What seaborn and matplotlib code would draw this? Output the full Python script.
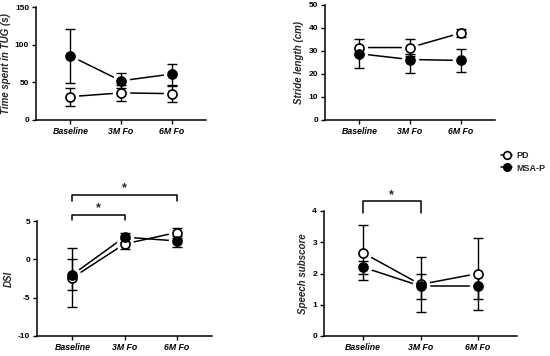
import numpy as np
import pandas as pd
import seaborn as sns
import matplotlib.pyplot as plt
from matplotlib.lines import Line2D

sns.set_style("ticks")
plt.rcParams['font.family'] = ['Liberation Sans', 'DejaVu Sans']
plt.rcParams['axes.unicode_minus'] = False

timepoints = ["Baseline", "3M Fo", "6M Fo"]
groups = ["PD", "MSA-P"]

# TUG time (s)
tug_pd = [31, 36, 35]
tug_pd_lo = [19, 25, 24]
tug_pd_hi = [43, 46, 45]
tug_msa = [85, 52, 61]
tug_msa_lo = [49, 43, 46]
tug_msa_hi = [121, 62, 74]

# stride length (cm)
stride_pd = [31.5, 31.5, 37.8]
stride_pd_lo = [28.5, 28.5, 36.2]
stride_pd_hi = [35, 35, 39.4]
stride_msa = [28.8, 26.3, 25.9]
stride_msa_lo = [22.5, 20.5, 21]
stride_msa_hi = [31, 28, 30.8]

# DSI
dsi_pd = [-2.4, 2.0, 3.5]
dsi_pd_lo = [-6.2, 1.3, 2.8]
dsi_pd_hi = [1.5, 2.7, 4.1]
dsi_msa = [-2.0, 2.9, 2.4]
dsi_msa_lo = [-4.0, 2.3, 1.6]
dsi_msa_hi = [0.0, 3.5, 3.1]

# speech subscore
speech_pd = [2.66, 1.65, 2.0]
speech_pd_lo = [1.78, 0.78, 0.84]
speech_pd_hi = [3.54, 2.53, 3.15]
speech_msa = [2.2, 1.6, 1.6]
speech_msa_lo = [2.0, 1.2, 1.2]
speech_msa_hi = [2.4, 2.0, 2.0]

panels = [
    ("Time spent in TUG (s)", (0, 150), [0, 50, 100, 150],
     (tug_pd, tug_pd_lo, tug_pd_hi), (tug_msa, tug_msa_lo, tug_msa_hi)),
    ("Stride length (cm)", (0, 50), [0, 10, 20, 30, 40, 50],
     (stride_pd, stride_pd_lo, stride_pd_hi), (stride_msa, stride_msa_lo, stride_msa_hi)),
    ("DSI", (-10, 5), [-10, -5, 0, 5],
     (dsi_pd, dsi_pd_lo, dsi_pd_hi), (dsi_msa, dsi_msa_lo, dsi_msa_hi)),
    ("Speech subscore", (0, 4), [0, 1, 2, 3, 4],
     (speech_pd, speech_pd_lo, speech_pd_hi), (speech_msa, speech_msa_lo, speech_msa_hi)),
]

rects = [
    [36/550, 1-120/356, 170/550, 113/356],
    [325/550, 1-120/356, 170/550, 115/356],
    [37/550, 1-336/356, 175/550, 115/356],
    [324/550, 1-336/356, 193/550, 125/356],
]

fig = plt.figure(figsize=(5.5, 3.56), dpi=100)
ms = 6.5

for (ylab, ylim, yticks, pd_vals, msa_vals), rect in zip(panels, rects):
    ax = fig.add_axes(rect)
    x = np.arange(len(timepoints))
    df = pd.DataFrame({
        "x": np.concatenate([x, x]),
        "val": pd_vals[0] + msa_vals[0],
        "group": [groups[0]] * 3 + [groups[1]] * 3,
    })
    sns.lineplot(data=df, x="x", y="val", hue="group", palette=["black", "black"],
                 linewidth=1.1, legend=False, ax=ax, zorder=1)
    for (vals, lo, hi), fc in [(pd_vals, "white"), (msa_vals, "black")]:
        vals = np.array(vals)
        yerr = [vals - np.array(lo), np.array(hi) - vals]
        # white halo to leave a gap between the lines and the markers
        ax.plot(x, vals, "o", ms=ms + 5, mfc="white", mec="white", zorder=1.5)
        ax.errorbar(x, vals, yerr=yerr, fmt="none", ecolor="black",
                    elinewidth=1.0, capsize=3.5, capthick=1.0, zorder=2)
        ax.plot(x, vals, "o", ms=ms, mfc=fc, mec="black", mew=1.2, zorder=3)
    ax.set_xlim(-0.68, 2.68)
    ax.set_ylim(*ylim)
    ax.set_yticks(yticks)
    ax.set_xticks(x)
    ax.set_xticklabels(timepoints, fontsize=6.3, fontweight="bold", fontstyle="italic")
    for t in ax.get_yticklabels():
        t.set_fontsize(6)
        t.set_fontweight("bold")
    ax.set_xlabel("")
    ax.set_ylabel(ylab, fontsize=7, fontweight="bold", fontstyle="italic", labelpad=3)
    sns.despine(ax=ax)
    for s in ["left", "bottom"]:
        ax.spines[s].set_linewidth(1.1)
        ax.spines[s].set_color("black")
    ax.tick_params(colors="black", width=1.0, length=3, pad=2)

axes = fig.axes


def bracket(ax, x0, x1, y, leg, ystar):
    ax.plot([x0, x0, x1, x1], [y - leg, y, y, y - leg], color="black", lw=1.1, clip_on=False)
    ax.text((x0 + x1) / 2, ystar, "*", ha="center", va="center", fontsize=9,
            fontweight="bold", clip_on=False)


bracket(axes[2], 0, 2, 8.4, 0.75, 9.3)
bracket(axes[2], 0, 1, 5.8, 0.7, 6.7)
bracket(axes[3], 0, 1, 4.32, 0.37, 4.5)

handles = [
    Line2D([], [], color="black", lw=1.1, marker="o", ms=5.5, mfc="white", mec="black", mew=1.2),
    Line2D([], [], color="black", lw=1.1, marker="o", ms=5.5, mfc="black", mec="black"),
]
fig.legend(handles, groups, loc="center left", bbox_to_anchor=(493/550, 1-162/356),
           frameon=False, handlelength=1.2, handletextpad=0.5, labelspacing=0.35,
           prop={"weight": "bold", "size": 6.5})

fig.savefig("out.png", dpi=100)
